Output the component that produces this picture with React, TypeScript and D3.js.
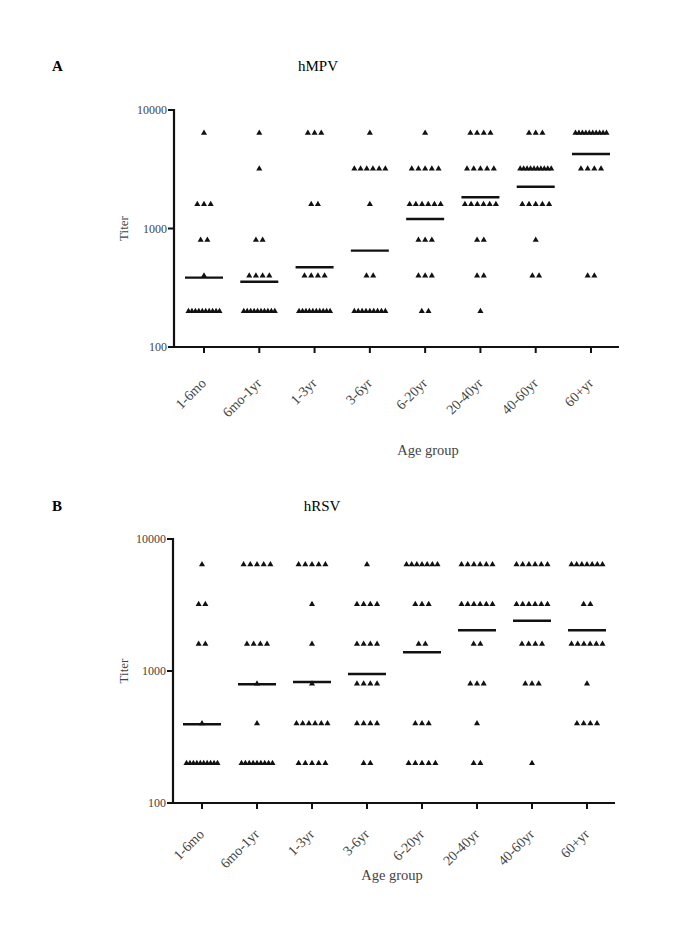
import React from "react";
import * as d3 from "d3";

const ageGroups = ["1-6mo", "6mo-1yr", "1-3yr", "3-6yr", "6-20yr", "20-40yr", "40-60yr", "60+yr"];
const titerLevels = [200, 400, 800, 1600, 3200, 6400];
const yTicks = [100, 1000, 10000];

// counts of sera per titer level (200, 400, 800, 1600, 3200, 6400) in each age group
const hmpvCounts = [
  [10, 1, 2, 3, 0, 1],
  [10, 4, 2, 0, 1, 1],
  [10, 4, 0, 2, 0, 3],
  [9, 2, 0, 1, 6, 1],
  [2, 3, 3, 6, 5, 1],
  [1, 2, 2, 6, 5, 4],
  [0, 2, 1, 5, 10, 3],
  [0, 2, 0, 0, 4, 10],
];
const hmpvMeans = [385, 355, 471, 650, 1203, 1834, 2253, 4253];

const hrsvCounts = [
  [10, 1, 0, 2, 2, 1],
  [9, 1, 1, 4, 0, 5],
  [5, 6, 1, 1, 1, 5],
  [2, 4, 4, 4, 4, 1],
  [5, 3, 0, 2, 3, 7],
  [2, 1, 3, 2, 6, 6],
  [1, 0, 3, 4, 6, 6],
  [0, 4, 1, 6, 2, 7],
];
const hrsvMeans = [395, 793, 826, 949, 1386, 2034, 2405, 2034];

const FONT = "'Liberation Serif', 'Times New Roman', serif";

type PanelProps = {
  letter: string;
  title: string;
  counts: number[][];
  means: number[];
  letterY: number;
  titleX: number;
  left: number;
  top: number;
  bottom: number;
  firstTick: number;
  lastTick: number;
  axisEnd: number;
  labelDrop: number;
  xTitleX: number;
  xTitleY: number;
};

function Panel(p: PanelProps) {
  const y = d3.scaleLog().domain([100, 10000]).range([p.bottom, p.top]);
  const x = d3.scalePoint<string>().domain(ageGroups).range([p.firstTick, p.lastTick]);
  const tri = d3.symbol().type(d3.symbolTriangle).size(16)();

  const points: { cx: number; cy: number; key: string }[] = [];
  p.counts.forEach((row, gi) => {
    row.forEach((n, li) => {
      if (n === 0) return;
      const step = n > 1 ? Math.min(6.7, 31 / (n - 1)) : 0;
      for (let k = 0; k < n; k++) {
        points.push({
          cx: (x(ageGroups[gi]) as number) + (k - (n - 1) / 2) * step,
          cy: y(titerLevels[li]),
          key: `${gi}-${li}-${k}`,
        });
      }
    });
  });

  return (
    <g>
      <text x={52} y={p.letterY} fontFamily={FONT} fontSize={15} fontWeight="bold">{p.letter}</text>
      <text x={p.titleX} y={p.letterY} fontFamily={FONT} fontSize={15} textAnchor="middle">{p.title}</text>

      {/* axes */}
      <line x1={p.left} x2={p.left} y1={p.top - 1} y2={p.bottom + 1} stroke="#111" strokeWidth={2.2} />
      <line x1={p.left - 1} x2={p.axisEnd} y1={p.bottom} y2={p.bottom} stroke="#111" strokeWidth={2.2} />
      {yTicks.map((t) => (
        <g key={t}>
          <line x1={p.left - 6} x2={p.left} y1={y(t)} y2={y(t)} stroke="#111" strokeWidth={2} />
          <text x={p.left - 7} y={y(t) + 4} textAnchor="end" fontFamily={FONT} fontSize={12} fill="#444">{t}</text>
        </g>
      ))}
      {ageGroups.map((g) => (
        <g key={g}>
          <line x1={x(g)} x2={x(g)} y1={p.bottom} y2={p.bottom + 6} stroke="#111" strokeWidth={2} />
          <text
            transform={`translate(${(x(g) as number) + 3},${p.bottom + p.labelDrop}) rotate(-45)`}
            textAnchor="end"
            fontFamily={FONT}
            fontSize={14}
            fill="#444"
          >
            {g}
          </text>
        </g>
      ))}
      <text
        transform={`translate(${128},${(p.top + p.bottom) / 2}) rotate(-90)`}
        textAnchor="middle"
        fontFamily={FONT}
        fontSize={13}
        fill="#444"
      >
        Titer
      </text>
      <text x={p.xTitleX} y={p.xTitleY} textAnchor="middle" fontFamily={FONT} fontSize={14.5} fill="#444">Age group</text>

      {/* points */}
      {points.map((d) => (
        <path key={d.key} d={tri as string} transform={`translate(${d.cx},${d.cy})`} fill="#111" />
      ))}

      {/* geometric mean lines */}
      {p.means.map((m, i) => (
        <line
          key={i}
          x1={(x(ageGroups[i]) as number) - 19}
          x2={(x(ageGroups[i]) as number) + 19}
          y1={y(m)}
          y2={y(m)}
          stroke="#111"
          strokeWidth={2.4}
        />
      ))}
    </g>
  );
}

export default function App() {
  return (
    <svg
      width={685}
      height={925}
      style={{ position: "absolute", left: 0, top: 0, background: "#fff" }}
    >
      <rect width={685} height={925} fill="#fff" />
      <Panel
        letter="A"
        title="hMPV"
        counts={hmpvCounts}
        means={hmpvMeans}
        letterY={71}
        titleX={318}
        left={174}
        top={110}
        bottom={347}
        firstTick={204}
        lastTick={591}
        axisEnd={619}
        labelDrop={37}
        xTitleX={428}
        xTitleY={455}
      />
      <Panel
        letter="B"
        title="hRSV"
        counts={hrsvCounts}
        means={hrsvMeans}
        letterY={511}
        titleX={322}
        left={173}
        top={539}
        bottom={803}
        firstTick={202}
        lastTick={587}
        axisEnd={615}
        labelDrop={32}
        xTitleX={392}
        xTitleY={880}
      />
    </svg>
  );
}
